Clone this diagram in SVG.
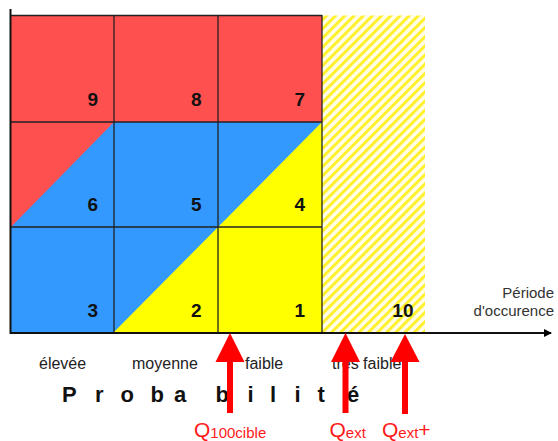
<svg xmlns="http://www.w3.org/2000/svg" width="558" height="441" viewBox="0 0 558 441">
<defs>
<pattern id="hatch" width="6.5" height="6.5" patternUnits="userSpaceOnUse" patternTransform="rotate(45)">
<rect x="0" y="0" width="6.5" height="6.5" fill="#FFFDE8"/>
<rect x="0" y="0" width="2.9" height="6.5" fill="#FFF02A"/>
</pattern>
<marker id="axisHead" markerWidth="8" markerHeight="8" refX="7" refY="4" orient="auto" markerUnits="userSpaceOnUse">
<path d="M0,0 L8,4 L0,8 Z" fill="#000"/>
</marker>
</defs>
<style>
.num{font-family:"Liberation Sans",Arial,sans-serif;font-weight:bold;font-size:19px;fill:#111;text-anchor:end}
.grid{stroke:#222;stroke-width:1.3;fill:none}
.lbl{font-family:"Liberation Sans",Arial,sans-serif;font-size:16px;fill:#222}
.axl{font-family:"Liberation Sans",Arial,sans-serif;font-size:15px;fill:#333;text-anchor:end}
.q{font-family:"Liberation Sans",Arial,sans-serif;font-size:21px;fill:#FF1A1A}
.qs{font-size:15px}
.red{fill:#FF0000}
</style>
<rect width="558" height="441" fill="#fff"/>
<g id="zones">
<rect x="11" y="15" width="311" height="107" fill="#FF5050"/>
<rect x="11" y="122" width="311" height="210" fill="#3399FF"/>
<polygon points="11,122 114,122 11,227" fill="#FF5050"/>
<polygon points="114,332 322,122 322,332" fill="#FFFF00"/>
<rect id="hatched" x="322" y="15.5" width="103" height="317" fill="url(#hatch)"/>
</g>
<g id="grid">
<line class="grid" x1="11" y1="15.5" x2="322" y2="15.5"/>
<line class="grid" x1="11" y1="122" x2="322" y2="122"/>
<line class="grid" x1="11" y1="227" x2="322" y2="227"/>
<line class="grid" x1="114" y1="15" x2="114" y2="332"/>
<line class="grid" x1="218" y1="15" x2="218" y2="332"/>
<line class="grid" x1="322" y1="15" x2="322" y2="332"/>
</g>
<g id="cell9"><text class="num" x="98" y="106">9</text></g>
<g id="cell8"><text class="num" x="201.5" y="106">8</text></g>
<g id="cell7"><text class="num" x="305" y="106">7</text></g>
<g id="cell6"><text class="num" x="98" y="211">6</text></g>
<g id="cell5"><text class="num" x="201.5" y="211">5</text></g>
<g id="cell4"><text class="num" x="305" y="211">4</text></g>
<g id="cell3"><text class="num" x="98" y="317">3</text></g>
<g id="cell2"><text class="num" x="201.5" y="317">2</text></g>
<g id="cell1"><text class="num" x="305" y="317">1</text></g>
<g id="cell10"><text class="num" x="413.5" y="317">10</text></g>
<g id="labels">
<text class="lbl" x="39" y="369">élevée</text>
<text class="lbl" x="132" y="369">moyenne</text>
<text class="lbl" x="245" y="369">faible</text>
<text class="lbl" x="332" y="369">très faible</text>
<text x="62" y="401.5" style="font-family:'Liberation Sans',Arial,sans-serif;font-weight:bold;font-size:22px;fill:#111">P<tspan x="95">r</tspan><tspan x="120.5">o</tspan><tspan x="150.5">b</tspan><tspan x="174">a</tspan><tspan x="215.5">b</tspan><tspan x="247.5">i</tspan><tspan x="270">l</tspan><tspan x="294.5">i</tspan><tspan x="317.5">t</tspan><tspan x="347">é</tspan></text>
<text class="axl" x="554" y="298">Période</text>
<text class="axl" x="554" y="316">d'occurence</text>
</g>
<g id="connectors">
<line x1="10.5" y1="9" x2="10.5" y2="334" stroke="#111" stroke-width="2"/>
<line x1="10" y1="333" x2="551" y2="333" stroke="#111" stroke-width="2" marker-end="url(#axisHead)"/>
<g id="arrowQ100">
<polygon class="red" points="230,333 244.5,362 215.5,362"/>
<rect class="red" x="227" y="361" width="6" height="52"/>
</g>
<g id="arrowQext">
<polygon class="red" points="345.5,333 360,362 331,362"/>
<rect class="red" x="342.5" y="361" width="6" height="52"/>
</g>
<g id="arrowQextPlus">
<polygon class="red" points="405,334 419.5,362 390.5,362"/>
<rect class="red" x="402" y="361" width="6" height="53"/>
</g>
</g>
<g id="qlabels">
<text class="q" x="194" y="436.5">Q<tspan class="qs" dy="1.5">100cible</tspan></text>
<text class="q" x="329.5" y="436.5">Q<tspan class="qs" dy="1.5">ext</tspan></text>
<text class="q" x="382" y="436.5">Q<tspan class="qs" dy="1.5">ext</tspan><tspan dy="-1.5">+</tspan></text>
</g>
</svg>
